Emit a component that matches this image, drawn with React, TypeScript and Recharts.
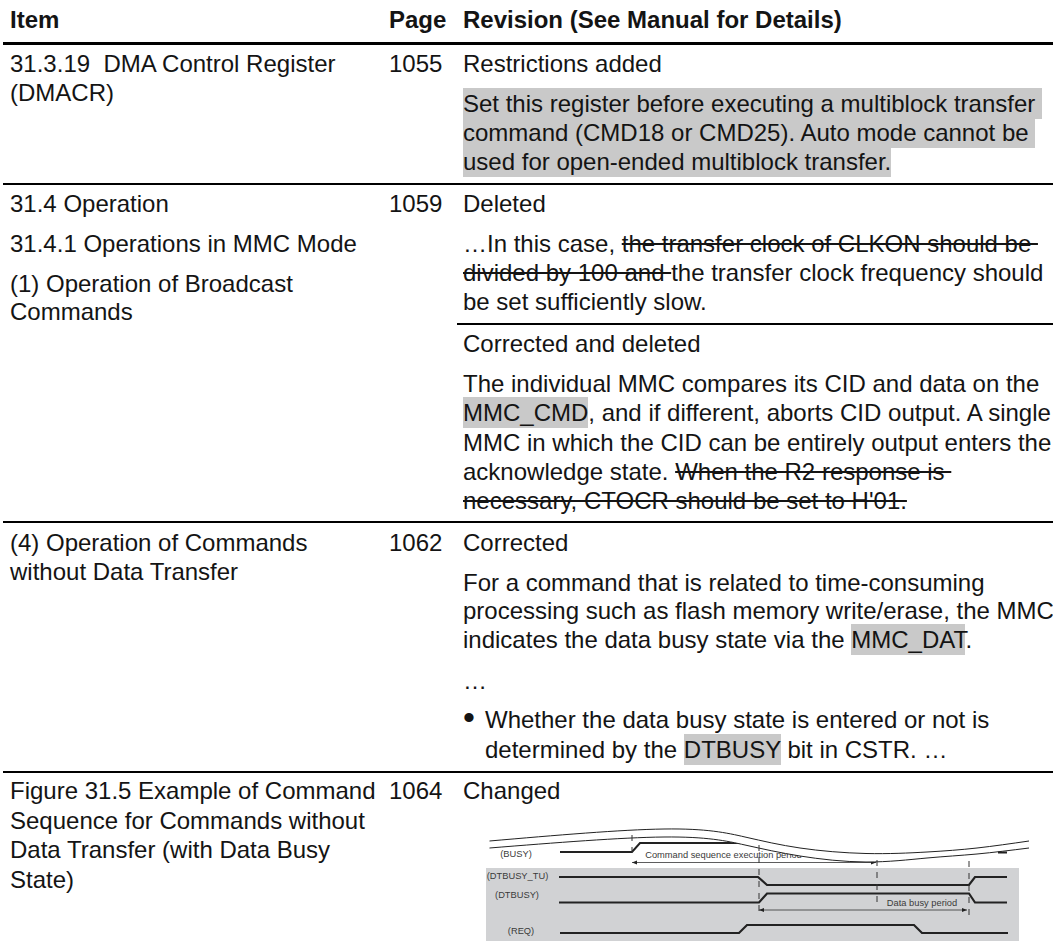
import React from 'react';
import { ComposedChart, Line, Area, XAxis, YAxis, ReferenceArea, ReferenceDot } from 'recharts';

type Seg = { t: string; k?: 'strike' | 'mark' };

const headers = ['Item', 'Page', 'Revision (See Manual for Details)'];
const pages = ['1055', '1059', '1062', '1064'];

const item1 = ['31.3.19  DMA Control Register', '(DMACR)'];
const item2 = ['31.4 Operation', '31.4.1 Operations in MMC Mode', '(1) Operation of Broadcast', 'Commands'];
const item3 = ['(4) Operation of Commands', 'without Data Transfer'];
const item4 = ['Figure 31.5 Example of Command', 'Sequence for Commands without', 'Data Transfer (with Data Busy', 'State)'];

const rev1: Seg[][] = [
  [{ t: 'Restrictions added' }],
  [{ t: 'Set this register before executing a multiblock transfer ', k: 'mark' }],
  [{ t: 'command (CMD18 or CMD25). Auto mode cannot be ', k: 'mark' }],
  [{ t: 'used for open-ended multiblock transfer.', k: 'mark' }],
];
const rev2: Seg[][] = [
  [{ t: 'Deleted' }],
  [{ t: '…In this case, ' }, { t: 'the transfer clock of CLKON should be ', k: 'strike' }],
  [{ t: 'divided by 100 and ', k: 'strike' }, { t: 'the transfer clock frequency should' }],
  [{ t: 'be set sufficiently slow.' }],
  [{ t: 'Corrected and deleted' }],
  [{ t: 'The individual MMC compares its CID and data on the' }],
  [{ t: 'MMC_CMD', k: 'mark' }, { t: ', and if different, aborts CID output. A single' }],
  [{ t: 'MMC in which the CID can be entirely output enters the' }],
  [{ t: 'acknowledge state. ' }, { t: 'When the R2 response is ', k: 'strike' }],
  [{ t: "necessary, CTOCR should be set to H'01.", k: 'strike' }],
];
const rev3: Seg[][] = [
  [{ t: 'Corrected' }],
  [{ t: 'For a command that is related to time-consuming' }],
  [{ t: 'processing such as flash memory write/erase, the MMC' }],
  [{ t: 'indicates the data busy state via the ' }, { t: 'MMC_DAT', k: 'mark' }, { t: '.' }],
  [{ t: '…' }],
];
const bullet = '•';
const rev3b: Seg[][] = [
  [{ t: 'Whether the data busy state is entered or not is' }],
  [{ t: 'determined by the ' }, { t: 'DTBUSY', k: 'mark' }, { t: ' bit in CSTR. …' }],
];
const rev4: Seg[][] = [[{ t: 'Changed' }]];

// timing diagram
const busyLow = [{ x: 560, y: 852 }, { x: 632, y: 852 }, { x: 640, y: 843 }, { x: 744, y: 843 }];
const busyTail = [{ x: 998, y: 852.5 }, { x: 1007, y: 852.5 }];
const dtbusyTu = [{ x: 559, y: 877 }, { x: 758, y: 877 }, { x: 767, y: 885 }, { x: 969, y: 885 }, { x: 975, y: 877 }, { x: 1007, y: 877 }];
const dtbusy = [{ x: 559, y: 902.5 }, { x: 759, y: 902.5 }, { x: 767, y: 893.5 }, { x: 969, y: 893.5 }, { x: 975, y: 902.5 }, { x: 1007, y: 902.5 }];
const req = [{ x: 560, y: 933 }, { x: 739, y: 933 }, { x: 747, y: 925 }, { x: 914, y: 925 }, { x: 922, y: 933 }, { x: 1008, y: 933 }];
const band = [
  { x: 489.5, edge: [841, 848] },
  { x: 664, edge: [829, 837] },
  { x: 745, edge: [837, 845] },
  { x: 800, edge: [848, 856] },
  { x: 866, edge: [853.5, 862] },
  { x: 927, edge: [852, 858] },
  { x: 977, edge: [848, 854] },
  { x: 1029, edge: [841, 848] },
];
const dashes = [
  [{ x: 632, y: 835 }, { x: 632, y: 852 }],
  [{ x: 759, y: 845 }, { x: 759, y: 914 }],
  [{ x: 877, y: 860 }, { x: 877, y: 903 }],
  [{ x: 969, y: 861 }, { x: 969, y: 916 }],
];
const spans = [
  [{ x: 632, y: 862.5 }, { x: 876, y: 862.5 }],
  [{ x: 759, y: 910 }, { x: 967, y: 910 }],
];
const labels = [
  { x: 516, y: 854, t: '(BUSY)' },
  { x: 517.5, y: 876, t: '(DTBUSY_TU)' },
  { x: 517, y: 895, t: '(DTBUSY)' },
  { x: 521, y: 931, t: '(REQ)' },
  { x: 723.5, y: 855, t: 'Command sequence execution period' },
  { x: 922, y: 903, t: 'Data busy period' },
];

const FONT = 24;
const LEAD = 29;
const ink = '#141414';

function Text({ x, base, segs, bold }: { x: number; base: number; segs: Seg[]; bold?: boolean }) {
  return (
    <div style={{ position: 'absolute', left: x, top: base - 22, lineHeight: LEAD + 'px', whiteSpace: 'pre', fontWeight: bold ? 700 : 400 }}>
      {segs.map((s, i) => (
        <span key={i} style={{
          textDecoration: s.k === 'strike' ? 'line-through' : undefined,
          background: s.k === 'mark' ? '#c9c9c9' : undefined,
          padding: s.k === 'mark' ? '2px 0' : undefined,
        }}>{s.t}</span>
      ))}
    </div>
  );
}

function Block({ x, bases, lines }: { x: number; bases: number[]; lines: Seg[][] }) {
  return <>{lines.map((l, i) => <Text key={i} x={x} base={bases[i]} segs={l} />)}</>;
}

const plain = (arr: string[]) => arr.map(t => [{ t }]);

function Rule({ x, y, h }: { x: number; y: number; h: number }) {
  return <div style={{ position: 'absolute', left: x, top: y, right: 0, height: h, background: '#000' }} />;
}

const Arrow = (props: any) => {
  const { cx, cy, index } = props;
  const d = index === 0 ? 1 : -1;
  return <path key={index} d={`M${cx} ${cy}l${d * 5} -2v4z`} fill="#222" />;
};

const chartSize = { width: 593, height: 137, margin: { top: 0, right: 0, bottom: 0, left: 0 } };

function Timing() {
  return (
    <>
      <div style={{ position: 'absolute', left: 460, top: 810 }}>
        <ComposedChart {...chartSize}>
          <XAxis type="number" dataKey="x" domain={[460, 1053]} hide allowDataOverflow />
          <YAxis type="number" domain={[810, 947]} reversed hide allowDataOverflow />
          <ReferenceArea x1={486} x2={1019} y1={868} y2={941} fill="#d1d2d4" fillOpacity={1} stroke="none" />
          {labels.map(l => (
            <ReferenceDot key={l.t} x={l.x} y={l.y} r={0} stroke="none" fill="none"
              label={{ value: l.t, position: 'center', fontSize: 9.3, fill: '#3a3a3a', fontFamily: 'Liberation Sans' }} />
          ))}
          {spans.map((s, i) => (
            <Line key={i} data={s} dataKey="y" stroke="#333" strokeWidth={0.8} dot={<Arrow />} isAnimationActive={false} />
          ))}
          <Line data={busyLow} dataKey="y" stroke="#222" strokeWidth={2} dot={false} isAnimationActive={false} />
        </ComposedChart>
      </div>
      {/* second layer so the white band covers the label under it */}
      <div style={{ position: 'absolute', left: 460, top: 810 }}>
        <ComposedChart {...chartSize}>
          <XAxis type="number" dataKey="x" domain={[460, 1053]} hide allowDataOverflow />
          <YAxis type="number" domain={[810, 947]} reversed hide allowDataOverflow />
          <Area data={band} dataKey="edge" type="natural" fill="#fff" fillOpacity={1} stroke="#222" strokeWidth={1} isAnimationActive={false} />
          <Line data={busyTail} dataKey="y" stroke="#222" strokeWidth={2} dot={false} isAnimationActive={false} />
          {[dtbusyTu, dtbusy, req].map((d, i) => (
            <Line key={i} data={d} dataKey="y" stroke="#222" strokeWidth={2.2} dot={false} isAnimationActive={false} />
          ))}
          {dashes.map((d, i) => (
            <Line key={i} data={d} dataKey="y" stroke="#333" strokeWidth={1} strokeDasharray="6 6" dot={false} isAnimationActive={false} />
          ))}
        </ComposedChart>
      </div>
    </>
  );
}

export default function App() {
  return (
    <div style={{ position: 'absolute', left: 0, top: 0, width: 1053, height: 947, overflow: 'hidden', background: '#fff', color: ink, fontFamily: '"Liberation Sans", Arial, sans-serif', fontSize: FONT }}>
      <Text x={10} base={27} segs={[{ t: headers[0] }]} bold />
      <Text x={389} base={27} segs={[{ t: headers[1] }]} bold />
      <Text x={463} base={27} segs={[{ t: headers[2] }]} bold />
      <Rule x={3} y={42} h={3} />
      <Rule x={3} y={183} h={2} />
      <Rule x={457} y={323} h={2} />
      <Rule x={3} y={521} h={2} />
      <Rule x={3} y={771} h={2} />

      <Block x={10} bases={[71, 100]} lines={plain(item1)} />
      <Block x={10} bases={[211, 251, 291, 319]} lines={plain(item2)} />
      <Block x={10} bases={[550, 579]} lines={plain(item3)} />
      <Block x={10} bases={[798, 828, 857, 887]} lines={plain(item4)} />

      <Block x={389} bases={[71, 211, 550, 798]} lines={plain(pages)} />

      <Block x={463} bases={[71, 111, 140, 169]} lines={rev1} />
      <Block x={463} bases={[211, 251, 280, 309, 351, 391, 420, 450, 479, 508]} lines={rev2} />
      <Block x={463} bases={[550, 590, 618, 647, 688]} lines={rev3} />
      <div style={{ position: 'absolute', left: 463, top: 727 - 30, fontSize: 34, lineHeight: '40px' }}>{bullet}</div>
      <Block x={485} bases={[727, 757]} lines={rev3b} />
      <Block x={463} bases={[798]} lines={rev4} />
      <Timing />
    </div>
  );
}
